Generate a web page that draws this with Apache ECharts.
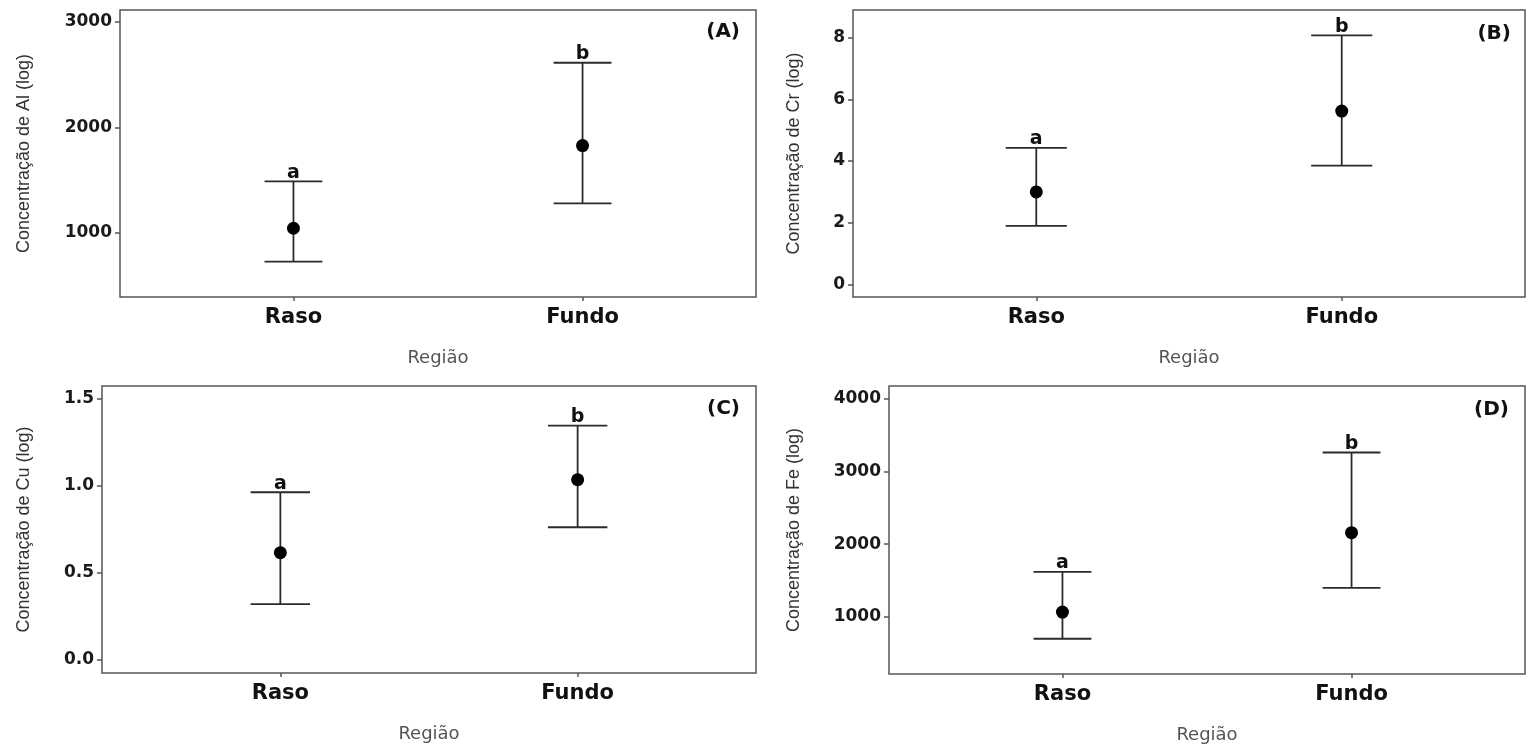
<!DOCTYPE html>
<html>
<head>
<meta charset="utf-8">
<script src="https://cdn.jsdelivr.net/npm/echarts@6/dist/echarts.min.js"></script>
<style>
html,body{margin:0;padding:0;background:#fff;}
#chart{width:1533px;height:747px;}
</style>
</head>
<body>
<div id="chart"></div>
<script>
// ---- data ----
const categories = ['Raso', 'Fundo'];
const letters = ['a', 'b'];

const alMean  = [1045, 1829];
const alLower = [728, 1281];
const alUpper = [1490, 2614];

const crMean  = [3.00, 5.62];
const crLower = [1.90, 3.85];
const crUpper = [4.43, 8.08];

const cuMean  = [0.615, 1.034];
const cuLower = [0.32, 0.761];
const cuUpper = [0.962, 1.344];

const feMean  = [1069, 2159];
const feLower = [702, 1402];
const feUpper = [1620, 3260];

const alTicks = [1000, 2000, 3000];
const crTicks = [0, 2, 4, 6, 8];
const cuTicks = [0, 0.5, 1.0, 1.5];
const feTicks = [1000, 2000, 3000, 4000];

// ---- layout ----
const panels = [
  {mean: alMean, lo: alLower, hi: alUpper, ticks: alTicks, dec: 0,
   name: 'Concentração de Al (log)', tag: '(A)',
   grid: {left: 120, top: 10, width: 636, height: 287}, ymin: 393, ymax: 3114, nameGap: 87,
   tagPos: {right: 793, top: 22}},
  {mean: crMean, lo: crLower, hi: crUpper, ticks: crTicks, dec: 0,
   name: 'Concentração de Cr (log)', tag: '(B)',
   grid: {left: 853, top: 10, width: 672, height: 287}, ymin: -0.41, ymax: 8.9, nameGap: 50,
   tagPos: {right: 22, top: 24}},
  {mean: cuMean, lo: cuLower, hi: cuUpper, ticks: cuTicks, dec: 1,
   name: 'Concentração de Cu (log)', tag: '(C)',
   grid: {left: 102, top: 386, width: 654, height: 287}, ymin: -0.076, ymax: 1.572, nameGap: 69,
   tagPos: {right: 793, top: 399}},
  {mean: feMean, lo: feLower, hi: feUpper, ticks: feTicks, dec: 0,
   name: 'Concentração de Fe (log)', tag: '(D)',
   grid: {left: 889, top: 386, width: 636, height: 288}, ymin: 218, ymax: 4173, nameGap: 86,
   tagPos: {right: 24, top: 400}}
];

const catX = categories.map((c, i) => i + 1);
const capHalf = 0.1;
const lineColor = '#2b2b2b';
const boldFont = 'DejaVu Sans';
const nameFont = "'Liberation Sans', Arial, sans-serif";

const option = {
  animation: false,
  backgroundColor: '#ffffff',
  title: [], grid: [], xAxis: [], yAxis: [], series: []
};

panels.forEach((p, gi) => {
  option.title.push({
    text: p.tag, right: p.tagPos.right, top: p.tagPos.top, padding: 0,
    textStyle: {fontFamily: boldFont, fontWeight: 'bold', fontSize: 20, color: '#111'}
  });
  option.grid.push(Object.assign({
    show: true, borderColor: '#555555', borderWidth: 1.5, backgroundColor: '#fff',
    containLabel: false
  }, p.grid));
  option.xAxis.push({
    gridIndex: gi, type: 'value', min: 0.4, max: 2.6,
    name: 'Região', nameLocation: 'middle', nameGap: 52,
    nameTextStyle: {fontFamily: 'DejaVu Sans', fontSize: 18, color: '#555555'},
    axisLine: {show: false, onZero: false},
    splitLine: {show: false},
    axisTick: {show: true, length: 4, customValues: catX, lineStyle: {color: '#555', width: 1.5}},
    axisLabel: {
      customValues: catX, margin: 10,
      formatter: v => categories[Math.round(v) - 1] || '',
      fontFamily: boldFont, fontWeight: 'bold', fontSize: 21, color: '#111'
    }
  });
  option.yAxis.push({
    gridIndex: gi, type: 'value', min: p.ymin, max: p.ymax,
    name: p.name, nameLocation: 'middle', nameGap: p.nameGap, nameRotate: 90,
    nameTextStyle: {fontFamily: nameFont, fontSize: 18, color: '#333333'},
    axisLine: {show: false, onZero: false},
    splitLine: {show: false},
    axisTick: {show: true, length: 5, customValues: p.ticks, lineStyle: {color: '#555', width: 1.5}},
    axisLabel: {
      customValues: p.ticks, margin: 8,
      formatter: v => Number(v).toFixed(p.dec),
      fontFamily: boldFont, fontWeight: 'bold', fontSize: 17, color: '#1a1a1a'
    }
  });
  const errData = catX.map((x, i) => [x, p.lo[i], p.hi[i]]);
  option.series.push({
    type: 'custom', xAxisIndex: gi, yAxisIndex: gi, z: 2,
    data: errData,
    renderItem: function (params, api) {
      const x = api.value(0), lo = api.value(1), hi = api.value(2);
      const top = api.coord([x, hi]);
      const bot = api.coord([x, lo]);
      const tl = api.coord([x - capHalf, hi]), tr = api.coord([x + capHalf, hi]);
      const bl = api.coord([x - capHalf, lo]), br = api.coord([x + capHalf, lo]);
      const st = {stroke: lineColor, lineWidth: 1.8};
      return {
        type: 'group',
        children: [
          {type: 'line', shape: {x1: top[0], y1: top[1], x2: bot[0], y2: bot[1]}, style: st},
          {type: 'line', shape: {x1: tl[0], y1: tl[1], x2: tr[0], y2: tr[1]}, style: st},
          {type: 'line', shape: {x1: bl[0], y1: bl[1], x2: br[0], y2: br[1]}, style: st},
          {type: 'text', x: top[0], y: top[1] + 1,
           style: {text: letters[params.dataIndex], align: 'center', verticalAlign: 'bottom',
                   fontFamily: boldFont, fontWeight: 'bold', fontSize: 19, fill: '#111'}}
        ]
      };
    }
  });
  option.series.push({
    type: 'scatter', xAxisIndex: gi, yAxisIndex: gi, z: 3,
    symbol: 'circle', symbolSize: 13,
    itemStyle: {color: '#000', opacity: 1},
    data: catX.map((x, i) => [x, p.mean[i]])
  });
});

const chart = echarts.init(document.getElementById('chart'), null, {renderer: 'canvas'});
chart.setOption(option);
</script>
</body>
</html>
